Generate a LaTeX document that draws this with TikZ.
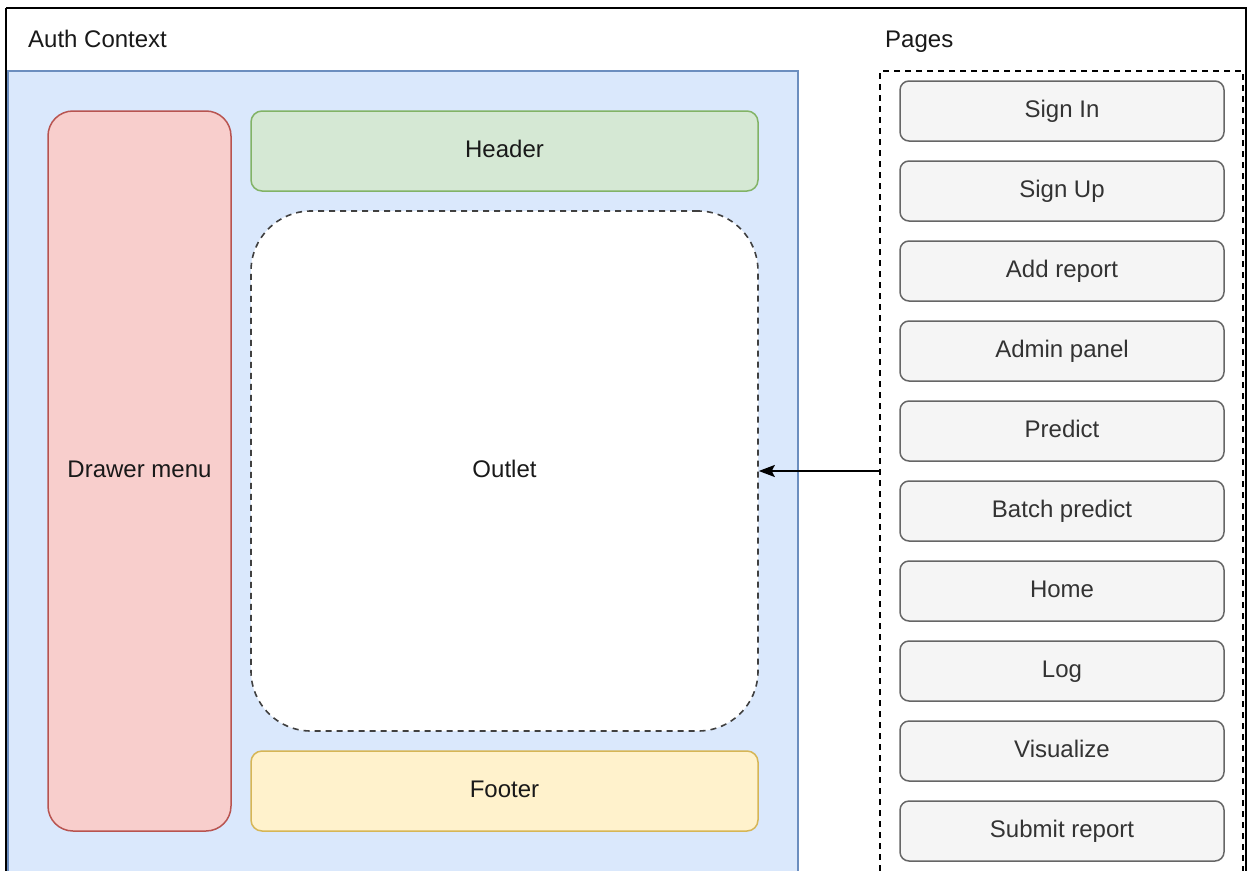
\documentclass[tikz,border=0pt]{standalone}
\usepackage{fontspec}
\setmainfont{Liberation Sans}
\usetikzlibrary{arrows.meta}
\definecolor{authfill}{HTML}{DAE8FC}
\definecolor{authline}{HTML}{6C8EBF}
\definecolor{redfill}{HTML}{F8CECC}
\definecolor{redline}{HTML}{B85450}
\definecolor{greenfill}{HTML}{D5E8D4}
\definecolor{greenline}{HTML}{82B366}
\definecolor{yellowfill}{HTML}{FFF2CC}
\definecolor{yellowline}{HTML}{D6B656}
\definecolor{pagefill}{HTML}{F5F5F5}
\definecolor{pageline}{HTML}{666666}
\definecolor{pagetext}{HTML}{333333}
\tikzset{
  lbl/.style={font=\fontsize{24}{28}\selectfont, text=black!90},
  box/.style={draw, line width=1.5pt, inner sep=0pt, lbl, text height=17pt, text depth=5pt},
  pagebox/.style={box, fill=pagefill, draw=pageline, text=pagetext,
    rounded corners=9pt, minimum width=324pt, minimum height=60pt},
  dashline/.style={dash pattern=on 6pt off 5pt, line width=1.6pt},
}
\begin{document}
\begin{tikzpicture}[x=1pt, y=-1pt]
  \clip (0,0) rectangle (1252,870);
  \fill[white] (0,0) rectangle (1252,870);
  % outer frame
  \draw[line width=2pt, black] (6,8) -- (1246,8) -- (1246,900) (6,900) -- (6,8);
  % titles
  \node[lbl, inner sep=0pt, anchor=base west] (authtitle) at (28,47) {Auth Context};
  \node[lbl, inner sep=0pt, anchor=base west] (pagestitle) at (885,47) {Pages};
  % auth context container
  \node[box, fill=authfill, draw=authline, minimum width=790pt, minimum height=889pt]
    (auth) at (403,515.5) {};
  % layout parts
  \node[box, fill=redfill, draw=redline, rounded corners=25pt,
    minimum width=183pt, minimum height=720pt] (drawer) at (139.5,471) {Drawer menu};
  \node[box, fill=greenfill, draw=greenline, rounded corners=11pt,
    minimum width=507pt, minimum height=80pt] (header) at (504.5,151) {Header};
  \node[box, fill=white, draw=black!75, dashline, rounded corners=60pt,
    minimum width=507pt, minimum height=520pt] (outlet) at (504.5,471) {Outlet};
  \node[box, fill=yellowfill, draw=yellowline, rounded corners=11pt,
    minimum width=507pt, minimum height=80pt] (footer) at (504.5,791) {Footer};
  % pages container
  \node[box, draw=black, dashline, minimum width=363pt, minimum height=889pt]
    (pages) at (1061.5,515.5) {};
  \node[pagebox] (signin)   at (1062,111) {Sign In};
  \node[pagebox] (signup)   at (1062,191) {Sign Up};
  \node[pagebox] (addrep)   at (1062,271) {Add report};
  \node[pagebox] (admin)    at (1062,351) {Admin panel};
  \node[pagebox] (predict)  at (1062,431) {Predict};
  \node[pagebox] (batch)    at (1062,511) {Batch predict};
  \node[pagebox] (home)     at (1062,591) {Home};
  \node[pagebox] (log)      at (1062,671) {Log};
  \node[pagebox] (visual)   at (1062,751) {Visualize};
  \node[pagebox] (submit)   at (1062,831) {Submit report};
  % routing arrow into the outlet
  \draw[line width=1.6pt, -{Stealth[length=16pt, width=12pt, inset=3pt]}]
    (pages.west |- outlet.east) -- (outlet.east);
\end{tikzpicture}
\end{document}
